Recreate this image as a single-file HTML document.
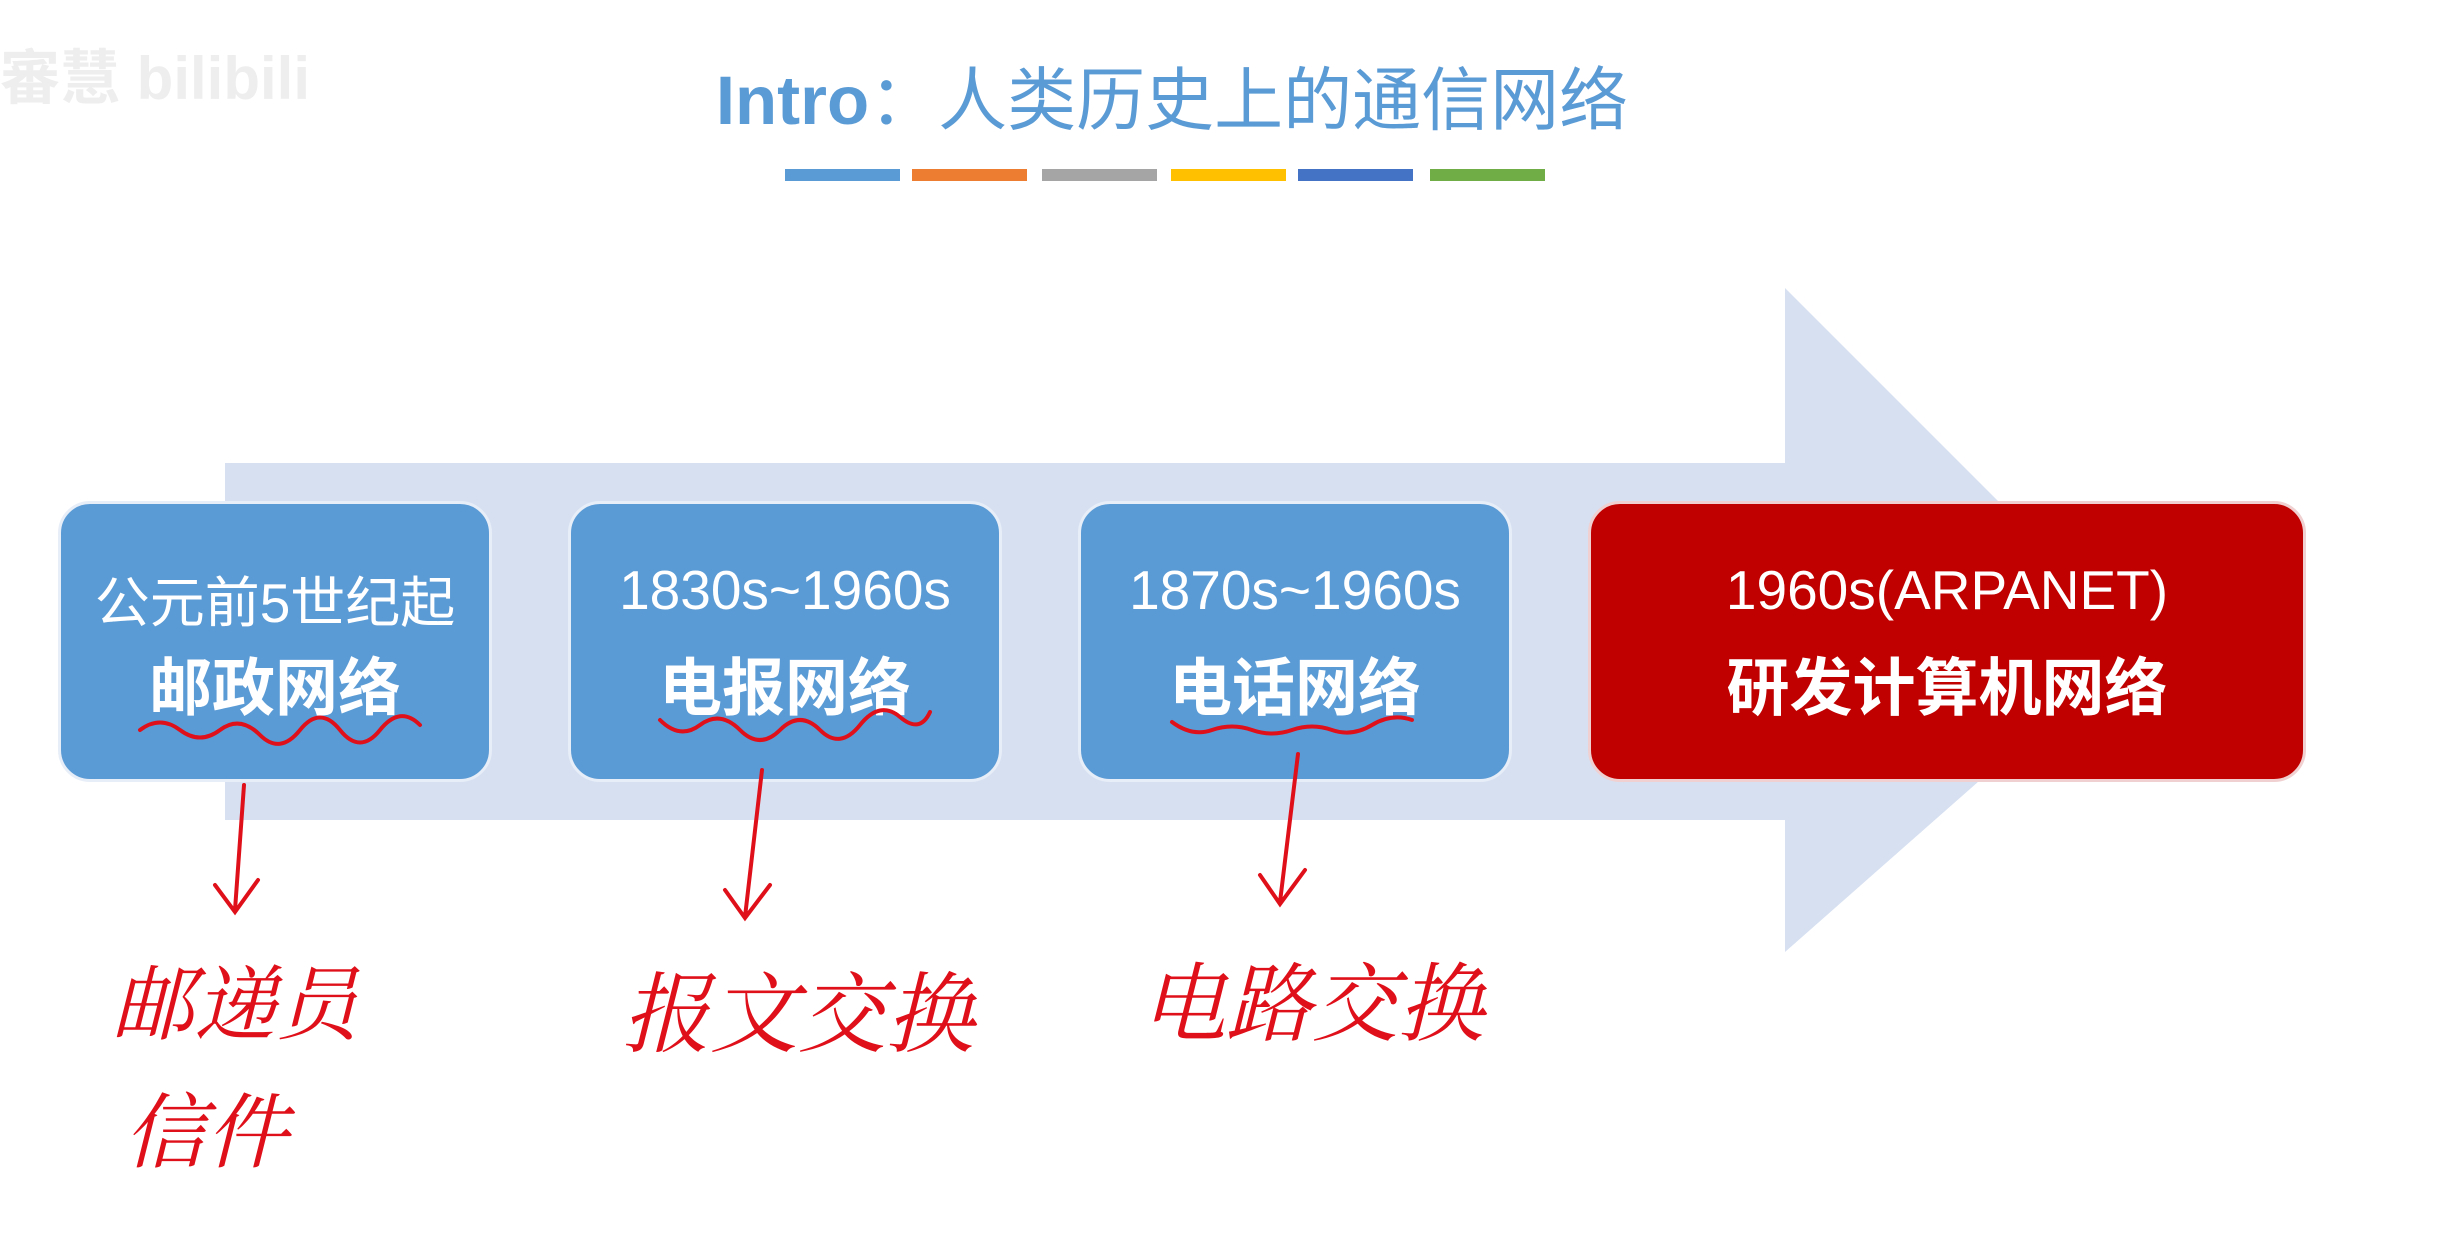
<!DOCTYPE html>
<html><head><meta charset="utf-8"><style>
html,body{margin:0;padding:0;background:#fff;}
body{width:2438px;height:1246px;position:relative;overflow:hidden;font-family:"Liberation Sans","Noto Sans CJK SC",sans-serif;}
.title{position:absolute;left:-47px;width:2438px;top:44px;text-align:center;font-size:69px;color:#5b9bd5;font-weight:bold;}
.title span{font-weight:normal;}
.bar{position:absolute;top:169px;height:12px;width:115px;}
.box{position:absolute;top:501px;height:281px;border-radius:32px;box-sizing:border-box;border:3px solid #e8eef8;background:#5b9bd5;color:#fff;text-align:center;}
.l1{position:absolute;left:0;right:0;top:54px;font-size:55px;white-space:nowrap;}
.l2{position:absolute;left:0;right:0;top:134px;font-size:63px;font-weight:bold;white-space:nowrap;}
.hw{position:absolute;color:#e0101a;font-family:"Noto Serif CJK SC","WenQuanYi Zen Hei",serif;font-style:italic;}
</style></head><body>
<div style="position:absolute;left:0;top:30px;font-size:60px;color:#eee;font-weight:bold;">審慧 bilibili</div>
<div class="title">Intro<span>：人类历史上的通信网络</span></div>
<div class="bar" style="left:785px;background:#5b9bd5"></div>
<div class="bar" style="left:912px;background:#ed7d31"></div>
<div class="bar" style="left:1042px;background:#a5a5a5"></div>
<div class="bar" style="left:1171px;background:#ffc000"></div>
<div class="bar" style="left:1298px;background:#4472c4"></div>
<div class="bar" style="left:1430px;background:#70ad47"></div>
<svg style="position:absolute;left:0;top:0" width="2438" height="1246">
<polygon points="225,463 1785,463 1785,288 2138,641 1785,952 1785,820 225,820" fill="#d6e0f1"/>
</svg>
<div class="box" style="left:58px;width:434px"><div class="l1">公元前5世纪起</div><div class="l2">邮政网络</div></div>
<div class="box" style="left:568px;width:434px"><div class="l1">1830s~1960s</div><div class="l2">电报网络</div></div>
<div class="box" style="left:1078px;width:434px"><div class="l1">1870s~1960s</div><div class="l2">电话网络</div></div>
<div class="box" style="left:1588px;width:718px;background:#c00000;border-color:#f0d0d0"><div class="l1">1960s(ARPANET)</div><div class="l2">研发计算机网络</div></div>
<svg style="position:absolute;left:0;top:0" width="2438" height="1246" fill="none" stroke="#e0101a" stroke-width="4" stroke-linecap="round">
<path d="M140,730 q20,-15 40,0 t40,0 t40,5 t40,-5 t40,0 t40,0 t40,-5"/>
<path d="M660,720 q20,20 40,5 t40,5 t40,0 t40,0 t40,-5 t40,-8 t30,-5"/>
<path d="M1172,722 q20,15 40,8 t40,0 t40,0 t40,0 t40,-5 t40,-5"/>
<path d="M244,785 L235,910 M215,885 L235,912 L258,880"/>
<path d="M762,770 L745,917 M725,890 L745,918 L770,885"/>
<path d="M1298,754 L1280,902 M1260,875 L1280,904 L1305,870"/>
</svg>
<div class="hw" style="left:112px;top:940px;font-size:82px;">邮递员</div>
<div class="hw" style="left:124px;top:1068px;font-size:82px;">信件</div>
<div class="hw" style="left:622px;top:945px;font-size:88px;">报文交换</div>
<div class="hw" style="left:1140px;top:935px;font-size:86px;">电路交换</div>
</body></html>
